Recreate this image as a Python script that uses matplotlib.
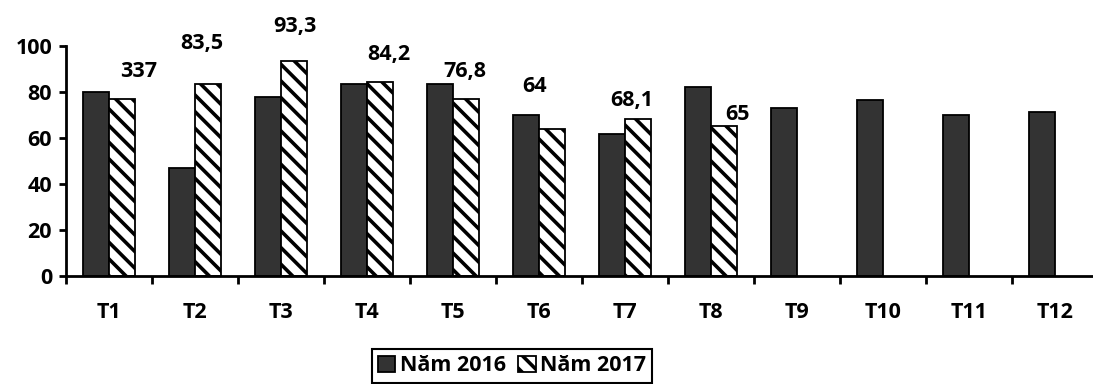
import matplotlib
matplotlib.use("Agg")
import matplotlib.pyplot as plt
import numpy as np

months = ["T1", "T2", "T3", "T4", "T5", "T6", "T7", "T8", "T9", "T10", "T11", "T12"]
val_2016 = [80, 46.8, 78, 83.5, 83.5, 69.9, 61.7, 82, 73.2, 76.5, 70, 71.3]
val_2017 = [76.8, 83.5, 93.3, 84.2, 76.8, 64, 68.1, 65]
labels_2017 = ["337", "83,5", "93,3", "84,2", "76,8", "64", "68,1", "65"]
yticks = [0, 20, 40, 60, 80, 100]

# label placement (dragged by hand in the original)
lab_dx = [0.2, -0.07, 0.01, 0.1, -0.01, -0.2, -0.07, 0.16]
lab_dy = [12.3, 17.4, 15.0, 12.3, 11.9, 18.2, 8.4, 5.0]

plt.rcParams['font.family'] = ['Open Sans', 'DejaVu Sans']
plt.rcParams['font.weight'] = 'bold'
plt.rcParams['hatch.linewidth'] = 2.6

fs = 15.5

fig = plt.figure(figsize=(10.93, 3.84), dpi=100)
ax = fig.add_axes([66/1093, 108/384, 1032/1093, 230/384])

x = np.arange(len(months))
w = 0.3
ax.bar(x - w/2, val_2016, w, color='#333333', edgecolor='black', linewidth=1.3, label='Năm 2016')
x17 = x[:len(val_2017)]
ax.bar(x17 + w/2, val_2017, w, color='white', edgecolor='black', linewidth=1.3,
       hatch='\\\\', label='Năm 2017')

for i, t in enumerate(labels_2017):
    ax.text(x17[i] + w/2 + lab_dx[i], val_2017[i] + lab_dy[i], t, ha='center', va='center',
            fontsize=fs, fontweight='bold', clip_on=False)

ax.set_xlim(-0.5, len(months) - 0.5)
ax.set_ylim(0, 100)
ax.set_yticks(yticks)
ax.set_yticklabels([str(v) for v in yticks], fontsize=fs, fontweight='bold')
ax.set_xticks(x)
ax.set_xticklabels(months, fontsize=fs, fontweight='bold')
ax.set_xticks(np.arange(len(months) + 1) - 0.5, minor=True)
ax.tick_params(axis='x', which='major', length=0, pad=19)
ax.tick_params(axis='x', which='minor', length=6, width=2, direction='out')
ax.tick_params(axis='y', length=5, width=2, direction='out', pad=5)

for s in ['top', 'right']:
    ax.spines[s].set_visible(False)
for s in ['left', 'bottom']:
    ax.spines[s].set_linewidth(2)

leg = fig.legend(loc='upper center', bbox_to_anchor=(512/1093, 35/384), ncol=2,
                 prop={'size': fs, 'weight': 'bold'}, handlelength=0.8, handleheight=0.8,
                 handletextpad=0.2, columnspacing=0.6, borderpad=0.3, borderaxespad=0,
                 fancybox=False, framealpha=1, edgecolor='black')
leg.get_frame().set_linewidth(1.5)

fig.savefig('out.png', dpi=100)
